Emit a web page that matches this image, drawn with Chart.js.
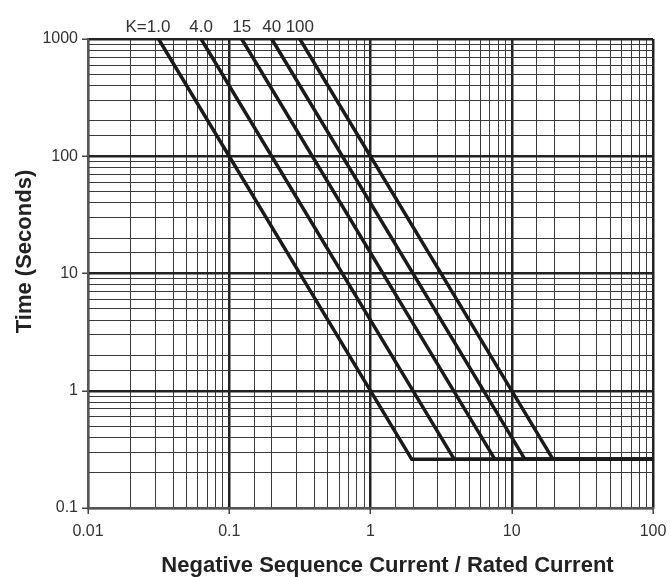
<!DOCTYPE html>
<html>
<head>
<meta charset="utf-8">
<script src="https://cdn.jsdelivr.net/npm/chart.js@4.4.1/dist/chart.umd.min.js"></script>
<style>
    html, body { margin: 0; padding: 0; background: #fff; }
</style>
</head>
<body>
<canvas id="graficoCurvas" width="671" height="577"></canvas>
<script>
// Curvas tiempo / corriente de secuencia negativa (I2t = K), con tiempo mínimo
const kLabels = ['1.0', '4.0', '15', '40', '100'];
const curvaK1 = [{ x: 0.0316, y: 1000 }, { x: 1.96, y: 0.26 }, { x: 100, y: 0.26 }];
const curvaK4 = [{ x: 0.0632, y: 1000 }, { x: 3.92, y: 0.26 }, { x: 100, y: 0.26 }];
const curvaK15 = [{ x: 0.1225, y: 1000 }, { x: 7.6, y: 0.26 }, { x: 100, y: 0.26 }];
const curvaK40 = [{ x: 0.2, y: 1000 }, { x: 12.4, y: 0.26 }, { x: 100, y: 0.26 }];
const curvaK100 = [{ x: 0.316, y: 1000 }, { x: 19.6, y: 0.26 }, { x: 100, y: 0.26 }];
const curvas = [curvaK1, curvaK4, curvaK15, curvaK40, curvaK100];

const xTickLabels = [0.01, 0.1, 1, 10, 100];
const yTickLabels = [0.1, 1, 10, 100, 1000];
const tituloX = 'Negative Sequence Current / Rated Current';
const tituloY = 'Time (Seconds)';

const fuente = '"Liberation Sans", Arial, sans-serif';
const esDecada = v => Math.abs(Math.log10(v) - Math.round(Math.log10(v))) < 1e-6;
const enLista = (lista, v) => lista.some(t => Math.abs(t - v) / t < 1e-6);

// Etiquetas K sobre el inicio de cada curva y títulos de los ejes
const textosExtra = {
    id: 'textosExtra',
    afterDatasetsDraw(chart) {
        const ctx = chart.ctx;
        const area = chart.chartArea;
        ctx.save();
        ctx.font = '17px ' + fuente;
        ctx.fillStyle = '#333';
        ctx.textBaseline = 'middle';
        const y = area.top - 12;
        chart.data.datasets.forEach((ds, i) => {
            const pt = chart.getDatasetMeta(i).data[0];
            const w = ctx.measureText(kLabels[i]).width;
            ctx.textAlign = 'center';
            ctx.fillText(kLabels[i], pt.x, y);
            if (i === 0) {
                ctx.textAlign = 'right';
                ctx.fillText('K=', pt.x - w / 2, y);
            }
        });

        // Títulos (algo desplazados respecto al centro, como en el original)
        ctx.fillStyle = '#222';
        ctx.font = 'bold 22px ' + fuente;
        ctx.textAlign = 'center';
        ctx.textBaseline = 'alphabetic';
        ctx.fillText(tituloX, (area.left + area.right) / 2 + 17, 572);

        ctx.translate(31, (area.top + area.bottom) / 2 - 22);
        ctx.rotate(-Math.PI / 2);
        ctx.fillText(tituloY, 0, 0);
        ctx.restore();
    }
};

const gridOpts = (lista) => ({
    color: c => esDecada(c.tick.value) ? '#222' : '#3a3a3a',
    lineWidth: c => esDecada(c.tick.value) ? 2.5 : 1,
    tickLength: 6,
    tickColor: c => enLista(lista, c.tick.value) ? '#444' : 'rgba(0,0,0,0)',
    tickWidth: 1.5
});

new Chart(document.getElementById('graficoCurvas').getContext('2d'), {
    type: 'line',
    data: {
        datasets: curvas.map((datos, i) => ({
            label: 'K=' + kLabels[i],
            data: datos,
            borderColor: '#1a1a1a',
            borderWidth: 3.5,
            pointRadius: 0,
            fill: false,
            tension: 0
        }))
    },
    options: {
        responsive: false,
        animation: false,
        devicePixelRatio: 1,
        layout: { padding: { left: 0, top: 39, right: 18, bottom: 0 } },
        scales: {
            x: {
                type: 'logarithmic',
                position: 'bottom',
                min: 0.01,
                max: 100,
                afterFit: s => { s.height = 69; s.paddingLeft = 0; s.paddingRight = 0; },
                border: { display: true, color: '#555', width: 2 },
                grid: gridOpts(xTickLabels),
                ticks: {
                    autoSkip: false,
                    maxRotation: 0,
                    padding: 8,
                    color: '#333',
                    font: { family: fuente, size: 16 },
                    callback: v => enLista(xTickLabels, v) ? String(v) : ''
                }
            },
            y: {
                type: 'logarithmic',
                position: 'left',
                min: 0.1,
                max: 1000,
                afterFit: s => { s.width = 88; },
                border: { display: true, color: '#555', width: 2 },
                grid: gridOpts(yTickLabels),
                ticks: {
                    autoSkip: false,
                    padding: 4,
                    color: '#333',
                    font: { family: fuente, size: 16 },
                    callback: v => enLista(yTickLabels, v) ? String(v) : ''
                }
            }
        },
        plugins: {
            legend: { display: false },
            tooltip: { enabled: false }
        }
    },
    plugins: [textosExtra]
});
</script>
</body>
</html>
